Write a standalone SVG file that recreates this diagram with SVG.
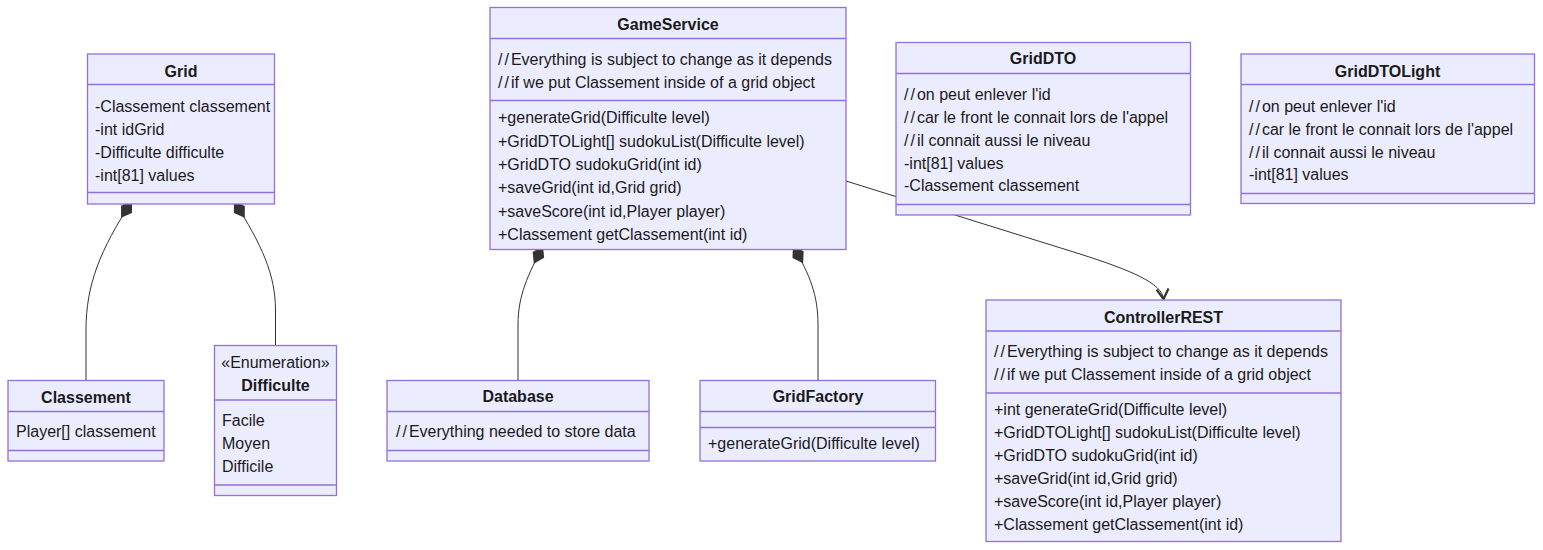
<svg xmlns="http://www.w3.org/2000/svg" width="1543" height="550" viewBox="0 0 1543 550">
<style>
.box{fill:#ECECFF;stroke:#9370DB;stroke-width:1.3}
.div{stroke:#9370DB;stroke-width:1.3}
text{font-family:"Liberation Sans",Arial,sans-serif;font-size:16px;fill:#1a1a1a}
.t{font-weight:bold;text-anchor:middle}
.c{text-anchor:middle}
.s{letter-spacing:2px}
.e{fill:none;stroke:#333;stroke-width:1}
</style>
<defs>
<marker id="comp" markerUnits="userSpaceOnUse" markerWidth="22" markerHeight="16" viewBox="0 0 22 16" refX="0" refY="7" orient="auto">
<path d="M0,7 L10,0.5 L20,7 L10,13.5 Z" fill="#333"/>
</marker>
<marker id="arr" markerUnits="userSpaceOnUse" markerWidth="14" markerHeight="15" viewBox="0 0 14 15" refX="11" refY="7" orient="auto">
<path d="M1,1 L11,7 L1,13" fill="none" stroke="#333" stroke-width="2.2"/>
</marker>
</defs>
<rect width="1543" height="550" fill="#ffffff"/>
<g id="connectors">
<path class="e" d="M132,201 C100,250 86,285 86,330 L86,380.5" marker-start="url(#comp)"/>
<path class="e" d="M234,201 C262,245 275.5,275 275.5,310 L275.5,345.5" marker-start="url(#comp)"/>
<path class="e" d="M543,246 C528,275 518,295 518,325 L518,380.5" marker-start="url(#comp)"/>
<path class="e" d="M793,246 C810,275 818,295 818,325 L818,380.5" marker-start="url(#comp)"/>
<path class="e" d="M846,181 L1080,254 C1130,270 1162,283 1163.5,299" marker-end="url(#arr)"/>
</g>
<g id="Grid">
<rect class="box" x="87.5" y="54" width="187" height="150"/>
<line class="div" x1="87.5" y1="84.5" x2="274.5" y2="84.5"/>
<line class="div" x1="87.5" y1="192.5" x2="274.5" y2="192.5"/>
<text class="t" x="181" y="76.5">Grid</text>
<text x="95" y="111.5">-Classement classement</text>
<text x="95" y="134.5">-int idGrid</text>
<text x="95" y="157.5">-Difficulte difficulte</text>
<text x="95" y="180.5">-int[81] values</text>
</g>
<g id="Classement">
<rect class="box" x="8" y="380.5" width="156" height="80.5"/>
<line class="div" x1="8" y1="411.5" x2="164" y2="411.5"/>
<line class="div" x1="8" y1="450.5" x2="164" y2="450.5"/>
<text class="t" x="86" y="402.5">Classement</text>
<text x="16" y="437">Player[] classement</text>
</g>
<g id="Difficulte">
<rect class="box" x="214.5" y="345.5" width="122" height="150"/>
<line class="div" x1="214.5" y1="400" x2="336.5" y2="400"/>
<line class="div" x1="214.5" y1="485" x2="336.5" y2="485"/>
<text class="c" x="275.5" y="368">«Enumeration»</text>
<text class="t" x="275.5" y="391">Difficulte</text>
<text x="222" y="425.5">Facile</text>
<text x="222" y="449">Moyen</text>
<text x="222" y="472">Difficile</text>
</g>
<g id="GameService">
<rect class="box" x="490" y="7.5" width="356" height="242"/>
<line class="div" x1="490" y1="38.5" x2="846" y2="38.5"/>
<line class="div" x1="490" y1="100.5" x2="846" y2="100.5"/>
<text class="t" x="668" y="30">GameService</text>
<text x="498" y="65"><tspan class="s">//</tspan>Everything is subject to change as it depends</text>
<text x="498" y="88"><tspan class="s">//</tspan>if we put Classement inside of a grid object</text>
<text x="498" y="123">+generateGrid(Difficulte level)</text>
<text x="498" y="146.5">+GridDTOLight[] sudokuList(Difficulte level)</text>
<text x="498" y="170">+GridDTO sudokuGrid(int id)</text>
<text x="498" y="193">+saveGrid(int id,Grid grid)</text>
<text x="498" y="216.5">+saveScore(int id,Player player)</text>
<text x="498" y="239.5">+Classement getClassement(int id)</text>
</g>
<g id="Database">
<rect class="box" x="387" y="380.5" width="262" height="80.5"/>
<line class="div" x1="387" y1="411.5" x2="649" y2="411.5"/>
<line class="div" x1="387" y1="450.5" x2="649" y2="450.5"/>
<text class="t" x="518" y="401.5">Database</text>
<text x="396" y="437"><tspan class="s">//</tspan>Everything needed to store data</text>
</g>
<g id="GridFactory">
<rect class="box" x="700" y="380.5" width="235.5" height="80.5"/>
<line class="div" x1="700" y1="411.5" x2="935.5" y2="411.5"/>
<line class="div" x1="700" y1="427.5" x2="935.5" y2="427.5"/>
<text class="t" x="818" y="401.5">GridFactory</text>
<text x="708" y="449">+generateGrid(Difficulte level)</text>
</g>
<g id="GridDTO">
<rect class="box" x="896" y="42.5" width="294.5" height="172.5"/>
<line class="div" x1="896" y1="73.5" x2="1190.5" y2="73.5"/>
<line class="div" x1="896" y1="204.5" x2="1190.5" y2="204.5"/>
<text class="t" x="1043" y="64">GridDTO</text>
<text x="904" y="99.5"><tspan class="s">//</tspan>on peut enlever l'id</text>
<text x="904" y="122.5"><tspan class="s">//</tspan>car le front le connait lors de l'appel</text>
<text x="904" y="145.5"><tspan class="s">//</tspan>il connait aussi le niveau</text>
<text x="904" y="168.5">-int[81] values</text>
<text x="904" y="191">-Classement classement</text>
</g>
<g id="GridDTOLight">
<rect class="box" x="1241" y="54" width="293.5" height="149.5"/>
<line class="div" x1="1241" y1="84.5" x2="1534.5" y2="84.5"/>
<line class="div" x1="1241" y1="193.5" x2="1534.5" y2="193.5"/>
<text class="t" x="1387.5" y="76.5">GridDTOLight</text>
<text x="1249" y="111.5"><tspan class="s">//</tspan>on peut enlever l'id</text>
<text x="1249" y="134.5"><tspan class="s">//</tspan>car le front le connait lors de l'appel</text>
<text x="1249" y="157.5"><tspan class="s">//</tspan>il connait aussi le niveau</text>
<text x="1249" y="180">-int[81] values</text>
</g>
<g id="ControllerREST">
<rect class="box" x="986" y="300" width="355" height="241.5"/>
<line class="div" x1="986" y1="331" x2="1341" y2="331"/>
<line class="div" x1="986" y1="393" x2="1341" y2="393"/>
<text class="t" x="1163.5" y="322.5">ControllerREST</text>
<text x="994" y="356.5"><tspan class="s">//</tspan>Everything is subject to change as it depends</text>
<text x="994" y="379.5"><tspan class="s">//</tspan>if we put Classement inside of a grid object</text>
<text x="994" y="415">+int generateGrid(Difficulte level)</text>
<text x="994" y="438">+GridDTOLight[] sudokuList(Difficulte level)</text>
<text x="994" y="461">+GridDTO sudokuGrid(int id)</text>
<text x="994" y="484">+saveGrid(int id,Grid grid)</text>
<text x="994" y="507">+saveScore(int id,Player player)</text>
<text x="994" y="529.5">+Classement getClassement(int id)</text>
</g>
</svg>
